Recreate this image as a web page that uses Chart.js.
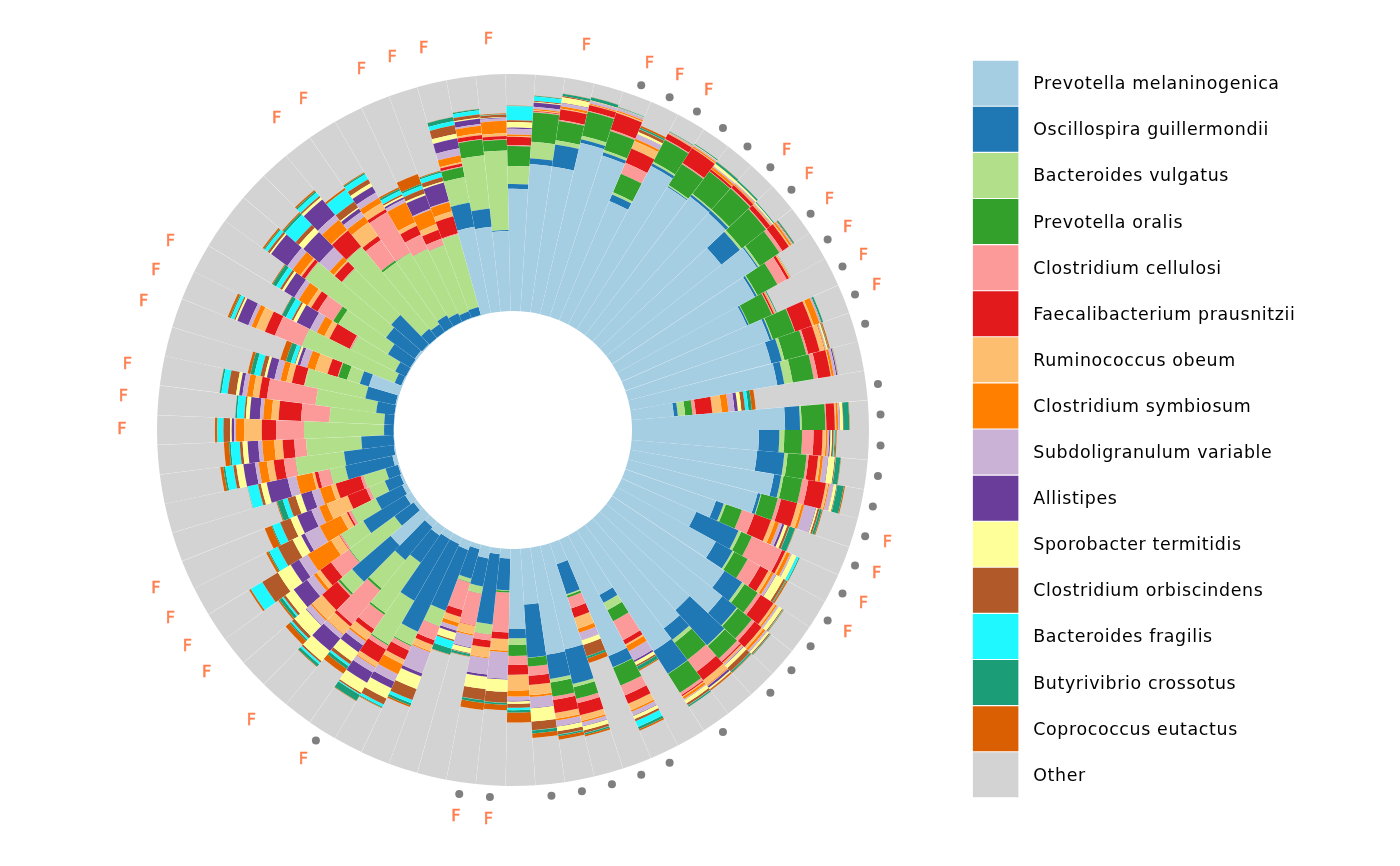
<!DOCTYPE html>
<html>
<head>
<meta charset="utf-8">
<title>Gut microbiome composition</title>
<script src="https://cdn.jsdelivr.net/npm/chart.js@4/dist/chart.umd.js"></script>
<style>
  html, body { margin: 0; padding: 0; background: #fff; }
  canvas { display: block; }
</style>
</head>
<body>
<canvas id="chart" width="1400" height="866"></canvas>
<script>
const speciesNames = ["Prevotella melaninogenica", "Oscillospira guillermondii", "Bacteroides vulgatus", "Prevotella oralis", "Clostridium cellulosi", "Faecalibacterium prausnitzii", "Ruminococcus obeum", "Clostridium symbiosum", "Subdoligranulum variable", "Allistipes", "Sporobacter termitidis", "Clostridium orbiscindens", "Bacteroides fragilis", "Butyrivibrio crossotus", "Coprococcus eutactus", "Other"];
const speciesColors = ["#A6CEE3", "#1F78B4", "#B2DF8A", "#33A02C", "#FB9A99", "#E31A1C", "#FDBF6F", "#FF7F00", "#CAB2D6", "#6A3D9A", "#FFFF99", "#B15928", "#1FF8FF", "#1B9E77", "#D95F02", "#D3D3D3"];

// percent of each sample, one array per species, samples run clockwise
const melaninogenica = [51.6,62.3,62.2,74.3,71.6,54.6,75.5,71.3,73.4,73,62,73.4,66.3,57.9,64.5,62.3,62.9,17.9,64.6,53.6,53.2,61.5,56.4,40.5,34.5,47.5,57,62.6,52.1,54.9,60.3,28.3,53.4,9.3,44.9,45.7,23.6,33.8,4,2.5,5,2,3.8,3,3,4,3,18,1.6,3,2,1,.5,1.8,.5,.2,.1,.1,.2,.5,13.3,.5,.3,.5,1,.5,.2,.2,.2,.2,.2,.2,37.1,36,33.8];
const oscillospira = [2,2.4,9.4,1.5,1.4,3,1.2,.4,1,1.4,10,.6,.9,.8,1,4.6,3,1.7,6.3,8.6,11.5,3.1,1.3,3.5,19.5,8,8.9,7.7,20,6,11.3,3.8,5,13.4,15,10.3,22.4,3.9,13.5,29.8,12,13,27.4,40.9,30,14,18,21.5,10,20.7,12.5,7,5.5,20.4,21.2,13.7,4.1,4.1,7.8,13,4,3,5,11,15,17.2,5,4,5.5,4,3,3.5,10.4,7.8,.4];
const vulgatus = [7.6,7,1.8,1.5,1,1,.8,.5,.6,.6,1,.8,.4,.2,.4,1.2,3.6,3.1,.7,2.1,1.4,1,.3,.9,1.2,.8,1.2,.5,.4,1.6,.2,3.5,.2,.5,1.4,1.5,.1,2.8,.2,4.2,3,1.5,7,6.3,21.4,26,15.6,6.7,23.4,10.8,11.5,7,9.7,6.5,20.6,23.3,33.8,23.1,25.8,26.2,5.7,42.1,20.7,24.5,42,27.2,44.8,31.8,30.4,30,29.8,31.8,11,22.6,33.6];
const oralis = [8.4,12.3,8.2,10.5,8.5,8.5,10.5,10.5,11.7,12,13,10,9.5,10.5,9.8,9.5,9,3.1,10,7.5,8,8,7.2,7.2,4.9,6.5,6.7,7.6,7,9,9.3,5.3,8.2,1,5,6,3.7,4.6,.7,.1,.1,.2,.1,.4,.5,.8,1,.9,.3,.1,.1,.1,.1,.1,.1,0,0,0,0,0,3.8,.1,.1,2.5,.1,.1,.1,.9,.2,.1,.1,.1,4.3,6.6,4.5];
const cellulosi = [.4,.3,.5,.4,.6,5,.3,.5,.2,.4,.4,1.5,4.5,.3,.2,.8,1.8,1.4,.4,4.8,.9,2.6,1.4,5.5,14,6,1.5,1.5,1.8,6.4,1.2,9,4.5,4.8,1.9,1.5,3.9,3.8,16.8,2.5,13.7,12,6.2,2.1,1.9,7.4,18.4,.7,9.4,.6,1.2,1.4,1.2,5,4.9,5,11.8,12,20.7,.2,.3,12.2,.6,7.7,.3,.3,.2,10.6,19.7,6.7,2.9,.4,.3,.3,.2];
const prausnitzii = [3.5,.4,4.5,2.5,7.4,6.5,2.5,7.5,1,1.5,2,3.3,1.1,.7,7.5,5,5.5,7,3.6,3.8,4,7.5,7,7.5,1.5,4,6.5,3.8,.6,4.5,.6,2,3.8,4.1,5.2,5.5,3.9,4.2,2.8,3,.2,3,2.1,4.2,6.3,2,1.4,8.4,5.6,.3,.8,8.4,11,1.5,4.3,4.9,6,9.5,3.3,5.3,4.5,4.5,9.6,3.2,1.6,3.9,8.7,2,1.4,4,4,7.4,1.2,1.7,1.4];
const obeum = [.3,.3,.3,.2,.5,3.5,.2,.3,.2,.2,.2,.5,.2,.2,.8,2,.3,4,.6,1.4,1,1,2,1.8,.7,1.4,1,1,.4,2.5,.4,.7,3,4.9,2.5,2.5,4.2,6.6,4.9,4.2,3.6,2.6,2.8,2.1,2,3.5,4.2,5.6,2,4,2.8,9.4,2,1,2.9,3.5,7.5,3,2.7,2.4,5.5,4,2.4,1.7,.8,.6,.5,7,3.1,1.7,2.5,2.2,.6,.8,1.1];
const symbiosum = [.7,.5,1,.4,.6,1,.2,.6,1,.4,.3,.8,.3,.3,2.6,.4,1,2.8,.8,.7,1.1,.5,1.1,1.8,1.5,1.1,.7,1,.3,.4,1,2.5,.7,1.8,.7,.7,.9,2.5,.7,.4,.6,1.7,.5,4.7,.4,.8,.4,.7,1.4,11.6,10,3.5,5,7,3.5,5.1,3.4,3.5,2.5,2.5,3.5,2,3.5,4.5,4,2.2,5.5,3,2.5,9.3,6.5,4.1,2.9,3.1,5.3];
const subdoligranulum = [2.4,1,1.3,1,.8,2,.3,.4,.5,.5,.5,.3,.1,.2,.4,.4,1,2.6,.6,.7,2,1.7,4.9,1.4,.6,1.1,.8,.8,.5,.2,.3,4.5,1.7,3.2,1.4,2.4,4.5,1.7,11.2,6.8,5,1.7,9.5,3.5,2.5,2,2,2.5,3.5,4.2,7,3.5,3.5,3.8,1.5,1.7,.8,1.4,1.9,2.6,3,1.5,3.2,2.1,2.7,5.7,2.5,2.5,2.5,1.5,.5,.3,3,.7,1.1];
const allistipes = [.5,1.8,.2,.1,.1,.1,.1,.1,.1,.1,.1,.1,0,0,.2,.1,.5,1.4,.2,.5,.2,.1,.2,.9,.1,.2,.1,.1,.2,.9,.1,.7,.2,.1,.2,.2,.2,.4,.3,1,.3,1,1.4,3,4.9,3.5,6.9,.3,7,4.2,1.7,6.5,4.7,9,5,4.5,1,4.3,1.4,3.3,1.2,5,6.3,5,8.5,9,8.5,1.6,3,.8,6,8.2,4.3,2.4,.3];
const termitidis = [2.3,.3,2.3,.2,.2,1,.1,.3,1.2,.7,.5,.2,.1,.1,.1,.6,.1,1.5,1.2,.7,2.7,1.2,.7,1.3,2.2,3.5,1.7,1,1.6,.6,1.7,1.4,1.4,2.1,1.8,2,5.6,1,5.2,5.2,2.1,3,5.6,4.8,4.9,4.8,5.5,6.3,4.2,6.3,4,3,2.5,2.5,3,2.1,.7,1.6,1.3,1,.9,.8,1.6,1,.7,2.5,1.2,.6,1.5,.7,.8,.6,2,.4,.2];
const orbiscindens = [.8,.4,.5,.1,.1,1.3,.1,.1,.1,.1,.1,.3,.1,.1,.1,.3,.1,1.6,.2,.7,.4,.3,.8,1,.1,1,.4,.5,2,.1,1,.7,1,5,1.1,1.4,3.7,1.7,4.6,4.7,.3,.6,5,2.8,.7,1.4,.8,1.4,1.1,7.7,7,4.7,3.5,1.2,1.3,1.2,2.8,.7,3.6,1.8,.3,.6,.8,1,1,1.8,.7,3,2,.7,2,1.8,3.7,1.4,1];
const fragilis = [5.9,1.8,.1,0,.1,.1,0,0,0,0,0,0,0,0,0,0,0,1.4,0,.4,.1,.1,.1,.1,1,.1,.1,.1,.1,0,.1,.1,2.6,.1,.1,.1,.1,1,.1,.1,.1,3.3,1.4,1.1,.4,1,.9,.7,.7,5.6,4,3.5,2.1,4.4,3.4,3.8,2.5,3.1,2.6,2.6,1.7,1.5,2.7,2,1.5,6,2,6,2.4,1.8,1.6,1.9,1.7,1.6,.1];
const crossotus = [.2,.3,.9,1.3,.2,.7,.3,.4,.9,.7,.4,.5,.1,.4,.8,.2,.1,1.4,2.5,.4,2,2.8,1,2.4,.4,.3,.2,.3,.7,.1,.6,1.5,1.1,.9,.7,.6,1.3,1,.7,1.1,1,2.5,1,.4,2.8,1.4,1.2,.7,1.4,.2,.5,.4,2.5,.1,.8,.7,.1,.7,.7,1.7,2.2,.5,1.8,1.7,.5,1,.7,.2,.6,.8,.7,.6,1.7,.6,.2];
const eutactus = [.1,.1,.1,.1,.1,.8,0,0,.1,0,0,.1,0,0,0,.5,.1,1.7,.2,.5,.2,.5,.4,.2,.1,.6,.2,.1,.2,.6,.1,.5,.7,2,.7,1.5,1.9,4.2,2.4,3,.2,.3,.7,.3,.3,2.5,.3,2.2,.7,.7,1,3.1,.4,.1,1.3,2.2,1,0,.1,1.2,2.5,1,.2,.4,.7,.5,.7,.8,.4,.7,4.5,.4,.1,.1,.3];
const other = [13.3,8.8,6.7,5.9,6.8,10.9,8.1,7.1,8,8.4,9.5,7.6,16.4,28.3,11.6,12.1,11,47.4,8.1,13.6,11.3,8.1,15.2,24,17.7,17.9,13,11.4,12.1,12.2,11.8,35.5,12.5,46.8,17.4,18.1,20,26.8,31.9,31.4,52.8,51.6,25.5,20.4,18,24.9,20.4,23.4,27.7,20,33.9,37.5,45.8,35.6,25.7,28.1,24.4,32.9,25.4,35.7,47.6,20.7,41.2,31.2,19.6,21.5,18.7,25.8,24.6,37,34.9,36.5,15.7,13.9,16.5];

// samples carrying the outer "F" label and the grey dot
const femaleSamples = [74,2,4,5,6,9,10,11,12,13,14,22,23,24,25,38,39,44,46,48,49,50,51,56,57,58,60,61,62,67,68,70,71,72];
const dotSamples = [4,5,6,7,8,9,10,11,12,13,14,15,17,18,19,20,21,22,23,24,25,26,27,28,30,32,33,34,35,36,38,39,44];

const seriesValues = [melaninogenica, oscillospira, vulgatus, oralis, cellulosi, prausnitzii, obeum, symbiosum, subdoligranulum, allistipes, termitidis, orbiscindens, fragilis, crossotus, eutactus, other];
const samples = melaninogenica.map((_, i) => i);

// the wheel: stacked bars get bent round this centre
const wheel = { cx: 513, cy: 430, inner: 119, outer: 356, startDeg: -1.2 };

function toAngle(scale, px) {
  const frac = (px - scale.left) / scale.width;
  return (frac * 360 + wheel.startDeg - 90) * Math.PI / 180;
}
function toRadius(scale, px) {
  const frac = (scale.bottom - px) / (scale.bottom - scale.top);
  return wheel.inner + frac * (wheel.outer - wheel.inner);
}

class SectorBar extends Chart.BarElement {
  draw(ctx) {
    const { x, y, base, width } = this.getProps(["x", "y", "base", "width"]);
    const xs = this.$scales.x, ys = this.$scales.y;
    const a0 = toAngle(xs, x - width / 2), a1 = toAngle(xs, x + width / 2);
    const r0 = toRadius(ys, base), r1 = Math.min(toRadius(ys, y), wheel.outer);
    if (r1 <= r0) return;
    ctx.save();
    ctx.fillStyle = this.options.backgroundColor;
    ctx.beginPath();
    ctx.arc(wheel.cx, wheel.cy, r1, a0, a1);
    ctx.arc(wheel.cx, wheel.cy, r0, a1, a0, true);
    ctx.closePath();
    ctx.fill();
    ctx.restore();
  }
}
SectorBar.id = "sectorBar";
SectorBar.defaults = {};

class SectorBarController extends Chart.BarController {
  updateElements(bars, start, count, mode) {
    super.updateElements(bars, start, count, mode);
    for (let i = start; i < start + count; i++) {
      bars[i].$scales = { x: this._cachedMeta.xScale, y: this._cachedMeta.yScale };
    }
  }
}
SectorBarController.id = "sectorBar";
SectorBarController.defaults = { dataElementType: "sectorBar" };
SectorBarController.overrides = Chart.BarController.overrides;

Chart.register(SectorBar, SectorBarController);

const sampleMarks = {
  id: "sampleMarks",
  afterInit(chart) {
    // legend text sits a bit lower and wider than the default
    const ctx = chart.ctx, legend = chart.legend, drawLegend = legend.draw;
    legend.draw = function () {
      const fillText = ctx.fillText;
      ctx.fillText = (t, x, y, w) => fillText.call(ctx, t, x, y + 1.5, w);
      ctx.letterSpacing = "0.64px";
      drawLegend.call(legend);
      ctx.letterSpacing = "0px";
      delete ctx.fillText;
    };
  },
  afterDatasetsDraw(chart) {
    const { ctx, scales } = chart;
    const place = (i, level) => {
      const a = toAngle(scales.x, scales.x.getPixelForValue(i));
      const r = toRadius(scales.y, scales.y.getPixelForValue(level));
      return [wheel.cx + r * Math.cos(a), wheel.cy + r * Math.sin(a)];
    };
    ctx.save();
    ctx.fillStyle = "#7F7F7F";
    dotSamples.forEach((i) => {
      const [x, y] = place(i, 105);
      ctx.beginPath();
      ctx.arc(x, y, 4, 0, Math.PI * 2);
      ctx.fill();
    });
    ctx.fillStyle = "#FF7F50";
    ctx.strokeStyle = "#FF7F50";
    ctx.lineWidth = 0.5;
    ctx.font = "16px 'DejaVu Sans'";
    ctx.textAlign = "center";
    ctx.textBaseline = "middle";
    femaleSamples.forEach((i) => {
      const [x, y] = place(i, 114.8);
      ctx.fillText("F", x, y);
      ctx.strokeText("F", x, y);
    });
    ctx.restore();
  },
};

new Chart(document.getElementById("chart"), {
  type: "sectorBar",
  data: {
    labels: samples,
    datasets: speciesNames.map((name, i) => ({
      label: name,
      data: seriesValues[i],
      backgroundColor: speciesColors[i],
      borderWidth: 0,
    })),
  },
  options: {
    responsive: false,
    animation: false,
    categoryPercentage: 1,
    barPercentage: 0.994,
    layout: { padding: { right: 91, bottom: 8 } },
    scales: {
      x: { type: "category", offset: true, stacked: true, display: false },
      y: { type: "linear", min: 0, max: 100, stacked: true, display: false },
    },
    plugins: {
      tooltip: { enabled: false },
      legend: {
        position: "right",
        labels: {
          boxWidth: 45.5,
          boxHeight: 45,
          padding: 1.1,
          color: "#000",
          font: { family: "'DejaVu Sans'", size: 17.4 },
          generateLabels(chart) {
            const items = Chart.defaults.plugins.legend.labels.generateLabels(chart);
            // trailing spaces keep the wider text inside the legend's clip box
            items.forEach((it) => { it.text = "\u00A0" + it.text + "\u00A0\u00A0\u00A0\u00A0"; it.lineWidth = 0; });
            return items;
          },
        },
      },
    },
  },
  plugins: [sampleMarks],
});
</script>
</body>
</html>
